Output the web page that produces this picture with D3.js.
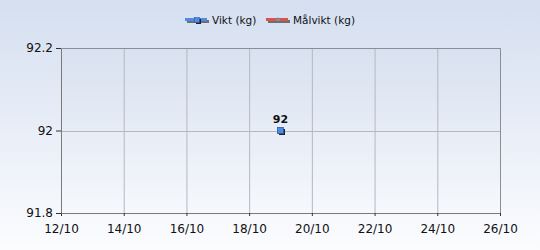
<!DOCTYPE html>
<html>
<head>
<meta charset="utf-8">
<script src="https://cdn.jsdelivr.net/npm/d3@7"></script>
<style>
  body { margin: 0; }
  svg { display: block; font-family: "DejaVu Sans", sans-serif; }
</style>
</head>
<body>
<svg id="chart" width="540" height="250"></svg>
<script>
// data
const dates = ["2014-10-19"];
const vikt = [92];
const malvikt = [];
const xTicks = ["2014-10-12", "2014-10-14", "2014-10-16", "2014-10-18", "2014-10-20", "2014-10-22", "2014-10-24", "2014-10-26"];
const yTicks = [91.8, 92, 92.2];
const seriesNames = ["Vikt (kg)", "Målvikt (kg)"];
const seriesColors = ["#4f8be3", "#d9534a"];

const svg = d3.select("#chart");
const width = +svg.attr("width");
const height = +svg.attr("height");
const margin = { top: 48, right: 40, bottom: 37, left: 61 };
const plotW = width - margin.left - margin.right;
const plotH = height - margin.top - margin.bottom;

const parse = d3.timeParse("%Y-%m-%d");

// background gradients
const defs = svg.append("defs");
const bg = defs.append("linearGradient").attr("id", "bg").attr("x1", 0).attr("y1", 0).attr("x2", 0).attr("y2", 1);
bg.append("stop").attr("offset", "0%").attr("stop-color", "#d5dff0");
bg.append("stop").attr("offset", "100%").attr("stop-color", "#fbfcfe");
const pg = defs.append("linearGradient").attr("id", "pg").attr("x1", 0).attr("y1", 0).attr("x2", 0).attr("y2", 1);
pg.append("stop").attr("offset", "0%").attr("stop-color", "#d8e1f0");
pg.append("stop").attr("offset", "100%").attr("stop-color", "#f6f8fc");

svg.append("rect").attr("width", width).attr("height", height).attr("fill", "url(#bg)");

const g = svg.append("g").attr("transform", `translate(${margin.left},${margin.top})`);
g.append("rect").attr("width", plotW).attr("height", plotH).attr("fill", "url(#pg)");

const x = d3.scaleTime()
    .domain([parse(xTicks[0]), parse(xTicks[xTicks.length - 1])])
    .range([0, plotW]);
const y = d3.scaleLinear()
    .domain([yTicks[0], yTicks[yTicks.length - 1]])
    .range([plotH, 0]);

// grid
g.append("g")
  .selectAll("line.vg")
  .data(xTicks.slice(1))
  .join("line")
  .attr("x1", d => x(parse(d)) + 0.5).attr("x2", d => x(parse(d)) + 0.5)
  .attr("y1", 0).attr("y2", plotH)
  .attr("stroke", "#b4b8c0").attr("stroke-width", 1);
g.append("g")
  .selectAll("line.hg")
  .data(yTicks.slice(1, -1))
  .join("line")
  .attr("x1", 0).attr("x2", plotW)
  .attr("y1", d => Math.round(y(d)) + 0.5).attr("y2", d => Math.round(y(d)) + 0.5)
  .attr("stroke", "#b4b8c0").attr("stroke-width", 1);

// frame top / right
g.append("path")
  .attr("d", `M0.5,0.5H${plotW + 0.5}V${plotH}`)
  .attr("fill", "none").attr("stroke", "#8a8f96");

// axes
const xAxis = d3.axisBottom(x)
    .tickValues(xTicks.map(parse))
    .tickFormat(d3.timeFormat("%d/%m"))
    .tickSizeOuter(0).tickSizeInner(3).tickPadding(8);
const yAxis = d3.axisLeft(y)
    .tickValues(yTicks)
    .tickFormat(d => d3.format("")(d))
    .tickSizeOuter(0).tickSizeInner(5).tickPadding(3);

const xg = g.append("g").attr("transform", `translate(0,${plotH})`).call(xAxis);
const yg = g.append("g").call(yAxis);
[xg, yg].forEach(a => {
  a.select(".domain").attr("stroke", "#7a7a7a");
  a.selectAll(".tick line").attr("stroke", "#333");
  a.selectAll(".tick text").attr("fill", "#111").style("font-size", "12px").style("font-family", "DejaVu Sans");
});

// series: vikt points
const pts = dates.map((d, i) => ({ date: parse(d), value: vikt[i] }));
const line = d3.line().x(d => x(d.date)).y(d => y(d.value));
g.append("path").datum(pts).attr("d", line).attr("fill", "none").attr("stroke", seriesColors[0]).attr("stroke-width", 2);

g.selectAll("rect.shadow")
  .data(pts)
  .join("rect")
  .attr("x", d => x(d.date) - 1.5).attr("y", d => y(d.value) - 1.5)
  .attr("width", 6).attr("height", 6)
  .attr("fill", "#222");
g.selectAll("rect.pt")
  .data(pts)
  .join("rect")
  .attr("x", d => x(d.date) - 3).attr("y", d => y(d.value) - 3)
  .attr("width", 6).attr("height", 6)
  .attr("fill", seriesColors[0]).attr("stroke", "#2a5db0").attr("stroke-width", 0.8);
g.selectAll("text.lbl")
  .data(pts)
  .join("text")
  .attr("x", d => x(d.date))
  .attr("y", d => y(d.value) - 8)
  .attr("text-anchor", "middle")
  .style("font-size", "11px")
  .style("font-weight", "bold")
  .attr("fill", "#111")
  .text(d => d.value);

// legend
const legend = svg.append("g").attr("transform", "translate(185,20)");
const legendX = [0, 81];
seriesNames.forEach((name, i) => {
  const lg = legend.append("g").attr("transform", `translate(${legendX[i]},0)`);
  lg.append("rect").attr("x", 2).attr("y", 0).attr("width", 22).attr("height", 3).attr("fill", "#6d6f73");
  lg.append("rect").attr("x", 0).attr("y", -2).attr("width", 22).attr("height", 3).attr("fill", seriesColors[i]);
  if (i === 0) {
    lg.append("rect").attr("x", 11).attr("y", -1).attr("width", 5).attr("height", 5).attr("fill", "#222");
    lg.append("rect").attr("x", 9.5).attr("y", -2.5).attr("width", 5).attr("height", 5).attr("fill", seriesColors[0]).attr("stroke", "#2a5db0").attr("stroke-width", 0.6);
  } else {
    lg.append("path").attr("d", "M9,1L12,-3L15,1Z").attr("fill", "#8a8a8a");
  }
  lg.append("text")
    .attr("x", 27).attr("y", 0)
    .attr("dy", "0.35em")
    .style("font-size", "10.5px")
    .attr("fill", "#111")
    .text(name);
});
</script>
</body>
</html>
